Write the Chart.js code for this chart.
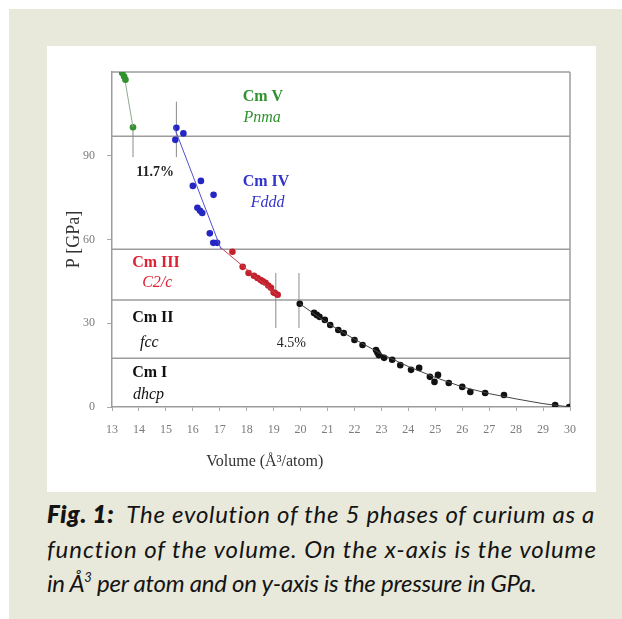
<!DOCTYPE html>
<html>
<head>
<meta charset="utf-8">
<script src="https://cdn.jsdelivr.net/npm/chart.js@4.4.1/dist/chart.umd.min.js"></script>
<style>
  html, body { margin: 0; padding: 0; background: #ffffff; width: 622px; height: 619px; overflow: hidden; }
  #beige { position: absolute; left: 9px; top: 9px; width: 613px; height: 610px; background: #e8e9da; }
  #panel { position: absolute; left: 47px; top: 46px; width: 549px; height: 446px; background: #ffffff; }
  #chart { position: absolute; left: 0; top: 0; }
  #caption { position: absolute; left: 47px; top: 497px; font-family: Lato, "Open Sans", sans-serif; font-style: italic; font-size: 24px; color: #141414; line-height: 34.5px; }
  #caption div { white-space: nowrap; }
  #caption .l1 { letter-spacing: 0.72px; }
  #caption .l2 { letter-spacing: 0.92px; }
  #caption .l3 { letter-spacing: -0.25px; }
  #caption b { font-weight: 800; }
  #caption sup { font-size: 13px; vertical-align: 10px; line-height: 0; }
</style>
</head>
<body>
<div id="beige"></div>
<div id="panel"><canvas id="chart" width="549" height="446"></canvas></div>
<div id="caption">
  <div class="l1"><b>Fig. 1:</b>&nbsp; The evolution of the 5 phases of curium as a</div>
  <div class="l2">function of the volume. On the x-axis is the volume</div>
  <div class="l3">in Å<sup>3</sup> per atom and on y-axis is the pressure in GPa.</div>
</div>
<script>
// ---- data (volume in Å^3/atom, pressure in GPa) ----
const xTicks = [13,14,15,16,17,18,19,20,21,22,23,24,25,26,27,28,29,30];
const yTicks = [0,30,60,90];

const cmVVolume = [13.38, 13.45, 13.5, 13.78];
const cmVPressure = [119.6, 118.4, 117.2, 100.2];

const cmIVVolume = [15.39, 15.65, 15.35, 16.0, 16.3, 16.77, 16.17, 16.35, 16.27, 16.63, 16.76, 16.9];
const cmIVPressure = [100.0, 98.0, 95.7, 79.2, 81.0, 76.0, 71.4, 69.5, 70.3, 62.2, 58.8, 58.8];

const cmIIIVolume = [17.47, 17.85, 18.07, 18.27, 18.4, 18.52, 18.6, 18.7, 18.8, 18.9, 19.0, 19.05, 19.15];
const cmIIIPressure = [55.6, 50.2, 48.0, 47.0, 46.2, 45.5, 45.0, 44.5, 43.5, 42.7, 41.0, 40.8, 40.2];

const cmIIVolume = [19.97, 20.5, 20.6, 20.7, 20.9, 21.1, 21.4, 21.6, 22.0, 22.3, 22.8, 22.85, 22.9, 23.1, 23.4, 23.7, 24.1, 24.4, 24.8, 24.97, 25.1, 25.5, 26.0, 26.3, 26.85, 27.55, 29.45, 29.97];
const cmIIPressure = [37.0, 33.7, 33.0, 32.3, 31.2, 29.4, 27.6, 26.5, 24.0, 22.2, 20.4, 19.5, 18.6, 17.6, 16.9, 15.0, 13.3, 14.0, 10.8, 9.0, 11.5, 8.6, 7.2, 5.4, 5.0, 4.3, 0.7, 0.0];

// fitted curves
const fitVFitVolume = [13.5, 13.78];
const fitVFitPressure = [116.0, 100.2];
const fitIVVolume = [15.3, 17.05];
const fitIVPressure = [100.5, 56.5];
const fitIIIVolume = [17.05, 19.15];
const fitIIIPressure = [57.0, 40.0];
const fitIIVolume = [19.97, 21, 22, 23, 24, 25, 26, 27, 28, 29, 30];
const fitIIPressure = [37.0, 30.0, 24.3, 19.0, 14.5, 10.6, 7.2, 4.8, 2.9, 1.2, 0.0];

// phase boundaries (GPa) and transition markers
const phaseBoundaries = [97, 56.5, 38.3, 17.5];
const transitionVolume = [13.78, 15.39, 19.08, 19.94];
const transitionLow = [89.5, 89.5, 28.3, 28.3];
const transitionHigh = [100.2, 109.4, 48.0, 48.0];
const volumeJumps = ['11.7%', '4.5%'];
const phaseNames = ['Cm V', 'Cm IV', 'Cm III', 'Cm II', 'Cm I'];
const phaseStructures = ['Pnma', 'Fddd', 'C2/c', 'fcc', 'dhcp'];

// ---- build ----
const toPts = (xs, ys) => xs.map((x, i) => ({x: x, y: ys[i]}));
const colGreen = '#2f912f', colBlue = '#2626c4', colRed = '#c4202c', colBlack = '#111111';

// label anchors in data units (left edge, vertical middle)
const nameAnchors = [[17.85, 111.2], [17.85, 80.7], [13.75, 51.6], [13.75, 31.9], [13.75, 12.2]];
const structAnchors = [[17.88, 103.6], [18.15, 73.1], [14.12, 44.5], [14.04, 22.9], [13.78, 4.3]];
const jumpAnchors = [[14.6, 83.9], [19.66, 22.9]];
const labelColors = [colGreen, '#3333cc', '#dd2233', colBlack, colBlack];

const overlay = {
  id: 'overlay',
  beforeDatasetsDraw(chart) {
    const ctx = chart.ctx, xs = chart.scales.x, ys = chart.scales.y, a = chart.chartArea;
    ctx.save();
    ctx.strokeStyle = '#9c9c9c';
    ctx.lineWidth = 1.5;
    phaseBoundaries.concat([120]).forEach(p => {
      const y = ys.getPixelForValue(p);
      ctx.beginPath(); ctx.moveTo(a.left, y); ctx.lineTo(a.right, y); ctx.stroke();
    });
    ctx.beginPath(); ctx.moveTo(a.right, a.top); ctx.lineTo(a.right, a.bottom); ctx.stroke();
    ctx.lineWidth = 1;
    ctx.strokeStyle = '#8a8a8a';
    transitionVolume.forEach((v, i) => {
      const x = xs.getPixelForValue(v);
      ctx.beginPath(); ctx.moveTo(x, ys.getPixelForValue(transitionLow[i])); ctx.lineTo(x, ys.getPixelForValue(transitionHigh[i])); ctx.stroke();
    });
    ctx.restore();
  },
  afterDatasetsDraw(chart) {
    const ctx = chart.ctx, xs = chart.scales.x, ys = chart.scales.y, a = chart.chartArea;
    ctx.save();
    ctx.textBaseline = 'middle';
    ctx.textAlign = 'left';
    phaseNames.forEach((n, i) => {
      ctx.fillStyle = labelColors[i];
      ctx.font = 'bold 16px "Liberation Serif"';
      ctx.fillText(n, xs.getPixelForValue(nameAnchors[i][0]), ys.getPixelForValue(nameAnchors[i][1]));
      ctx.font = 'italic 16px "Liberation Serif"';
      ctx.fillText(phaseStructures[i], xs.getPixelForValue(structAnchors[i][0]), ys.getPixelForValue(structAnchors[i][1]));
    });
    ctx.textAlign = 'center';
    ctx.fillStyle = '#222';
    ctx.font = 'bold 14px "Liberation Serif"';
    ctx.fillText(volumeJumps[0], xs.getPixelForValue(jumpAnchors[0][0]), ys.getPixelForValue(jumpAnchors[0][1]));
    ctx.font = '14px "Liberation Serif"';
    ctx.fillText(volumeJumps[1], xs.getPixelForValue(jumpAnchors[1][0]), ys.getPixelForValue(jumpAnchors[1][1]));
    // x-axis title
    ctx.fillStyle = '#333';
    ctx.font = '16px "Liberation Serif"';
    ctx.fillText('Volume (Å³/atom)', xs.getPixelForValue(18.67), a.bottom + 55);
    ctx.restore();
  }
};

const lineDs = (xs, ys, color) => ({
  data: toPts(xs, ys), showLine: true, pointRadius: 0, borderColor: color, borderWidth: 1, fill: false
});
const ptDs = (xs, ys, color) => ({
  data: toPts(xs, ys), showLine: false, pointRadius: 3.3, pointBorderWidth: 0, backgroundColor: color, borderColor: color
});

new Chart(document.getElementById('chart'), {
  type: 'scatter',
  data: {
    datasets: [
      lineDs(fitVFitVolume, fitVFitPressure, '#8fa88f'),
      lineDs(fitIVVolume, fitIVPressure, '#5050d0'),
      lineDs(fitIIIVolume, fitIIIPressure, '#c84050'),
      lineDs(fitIIVolume, fitIIPressure, '#444444'),
      ptDs(cmVVolume, cmVPressure, colGreen),
      ptDs(cmIVVolume, cmIVPressure, colBlue),
      ptDs(cmIIIVolume, cmIIIPressure, colRed),
      ptDs(cmIIVolume, cmIIPressure, colBlack)
    ]
  },
  options: {
    responsive: false,
    animation: false,
    devicePixelRatio: 1,
    layout: { padding: { left: 0, top: 26, right: 26, bottom: 0 } },
    plugins: { legend: { display: false }, tooltip: { enabled: false } },
    scales: {
      x: {
        type: 'linear', min: 13, max: 30,
        afterFit: s => { s.height = 85; },
        afterBuildTicks: s => { s.ticks = xTicks.map(v => ({value: v})); },
        ticks: { color: '#7a7a7a', font: { family: 'Liberation Serif', size: 12 }, padding: 12, maxRotation: 0, autoSkip: false },
        grid: { drawOnChartArea: false, drawTicks: true, tickLength: 4, color: '#aaaaaa' },
        border: { color: '#9c9c9c', width: 1.5 }
      },
      y: {
        type: 'linear', min: 0, max: 120,
        afterFit: s => { s.width = 65; },
        afterBuildTicks: s => { s.ticks = yTicks.map(v => ({value: v})); },
        ticks: { color: '#7a7a7a', font: { family: 'Liberation Serif', size: 12 }, padding: 12 },
        grid: { drawOnChartArea: false, drawTicks: true, tickLength: 5, color: '#aaaaaa' },
        border: { color: '#9c9c9c', width: 1.5 },
        title: { display: true, text: 'P [GPa]', color: '#333', font: { family: 'Liberation Serif', size: 18 }, padding: { top: 16 } }
      }
    }
  },
  plugins: [overlay]
});
</script>
</body>
</html>
